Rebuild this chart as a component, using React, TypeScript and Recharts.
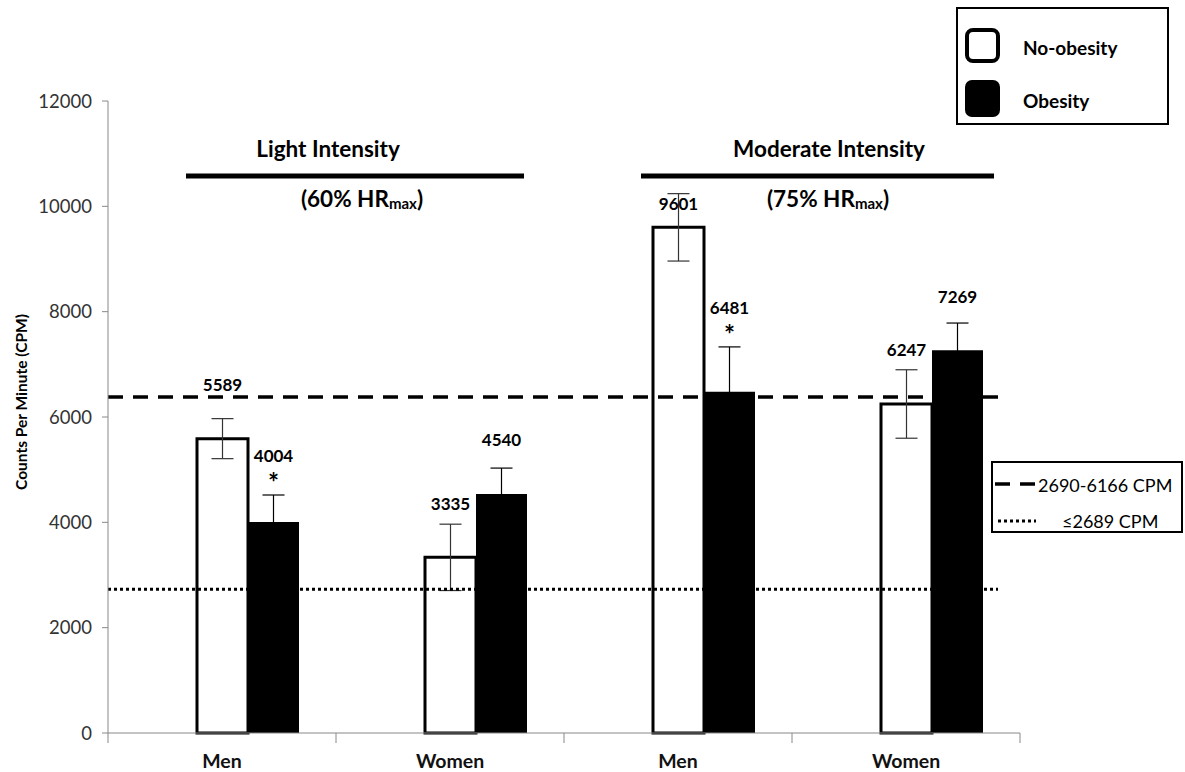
import { BarChart, Bar, XAxis, YAxis, ErrorBar, LabelList, ReferenceLine } from "recharts";

const categories = ["Men", "Women", "Men", "Women"];
const noObesity = [5589, 3335, 9601, 6247];
const obesity = [4004, 4540, 6481, 7269];
const noObesityErr = [380, 630, 640, 650];
const obesityErr = [515, 490, 850, 515];
const significant = [true, false, true, false];
const spacer = [0, 0, 0, 0];
const yTicks = [0, 2000, 4000, 6000, 8000, 10000, 12000];
const moderateCut = 6380;
const lightCut = 2730;

const data = categories.map((name, i) => ({
  name,
  spacer: spacer[i],
  noObesity: noObesity[i],
  obesity: obesity[i],
  noObesityErr: noObesityErr[i],
  obesityErr: obesityErr[i],
}));

const FONT = "Lato, 'Open Sans', sans-serif";
const HEADER_RULE_Y = 176;

function makeLabel(errors: number[], flags?: boolean[]) {
  return (props: any) => {
    const { x, y, width, height, value, index } = props;
    const v = Number(value);
    if (!v || !height) return null;
    const barTop = Number(y);
    const errTop = barTop - errors[index] * (Number(height) / v);
    const cx = Number(x) + Number(width) / 2;
    const star = flags && flags[index];
    // plain labels float above the bar, but stay under the header rule
    const ly = star ? errTop - 39 : Math.max(barTop - 54, HEADER_RULE_Y + 27);
    return (
      <g fontFamily={FONT} fontWeight={700} fill="#000">
        <text x={cx} y={ly} textAnchor="middle" dominantBaseline="central" fontSize={17}>
          {v}
        </text>
        {star && (
          <text x={cx} y={errTop - 13} textAnchor="middle" dominantBaseline="central" fontSize={26}>
            *
          </text>
        )}
      </g>
    );
  };
}

function CategoryTick(props: any) {
  const { x, y, payload, index } = props;
  const half = payload.offset || 114;
  return (
    <g>
      <line x1={x - half} x2={x - half} y1={y - 8} y2={y + 2} stroke="#888" />
      {index === categories.length - 1 && (
        <line x1={x + half} x2={x + half} y1={y - 8} y2={y + 2} stroke="#888" />
      )}
      <text x={x} y={y + 19} textAnchor="middle" dominantBaseline="central" fontFamily={FONT} fontWeight={700} fontSize={19.5} fill="#111">
        {payload.value}
      </text>
    </g>
  );
}

function ShortLine(dash: string, width: number) {
  return (p: any) => (
    <line x1={p.x1} y1={p.y1} x2={p.x2 - 22} y2={p.y2} stroke="#000" strokeWidth={width} strokeDasharray={dash} />
  );
}

export default function App() {
  return (
    <div style={{ position: "absolute", left: 0, top: 0, width: 1185, height: 772, background: "#fff" }}>
      <BarChart
        width={1185}
        height={772}
        data={data}
        margin={{ top: 101, right: 165, left: 0, bottom: 0 }}
        barGap={0}
        barSize={51}
      >
        <XAxis dataKey="name" height={39} stroke="#888" tickLine={false} tick={<CategoryTick />} interval={0} />
        <YAxis
          width={108}
          domain={[0, 12000]}
          ticks={yTicks}
          stroke="#888"
          tickSize={6}
          tickMargin={10}
          tick={{ fontFamily: FONT, fontSize: 18.5, fill: "#333" }}
        />
        <Bar dataKey="spacer" fill="transparent" isAnimationActive={false} />
        <Bar dataKey="noObesity" fill="#fff" stroke="#000" strokeWidth={3} isAnimationActive={false}>
          <ErrorBar dataKey="noObesityErr" direction="y" width={11} stroke="#333" strokeWidth={1.2} />
          <LabelList dataKey="noObesity" content={makeLabel(noObesityErr)} />
        </Bar>
        <Bar dataKey="obesity" fill="#000" isAnimationActive={false}>
          <ErrorBar dataKey="obesityErr" direction="y" width={11} stroke="#000" strokeWidth={1.2} />
          <LabelList dataKey="obesity" content={makeLabel(obesityErr, significant)} />
        </Bar>
        <ReferenceLine y={moderateCut} shape={ShortLine("15 10", 3.5)} />
        <ReferenceLine y={lightCut} shape={ShortLine("3 3", 3)} />
      </BarChart>

      <svg
        width={1185}
        height={772}
        style={{ position: "absolute", left: 0, top: 0, pointerEvents: "none" }}
        fontFamily={FONT}
      >
        {/* y axis title */}
        <text
          x={21}
          y={402}
          transform="rotate(-90 21 402)"
          textAnchor="middle"
          dominantBaseline="central"
          fontSize={15.5}
          fontWeight={700}
        >
          Counts Per Minute (CPM)
        </text>

        {/* intensity headers */}
        <text x={328} y={148} textAnchor="middle" dominantBaseline="central" fontSize={22.5} fontWeight={700}>
          Light Intensity
        </text>
        <line x1={186} x2={524} y1={HEADER_RULE_Y} y2={HEADER_RULE_Y} stroke="#000" strokeWidth={5} />
        <text x={362} y={198} textAnchor="middle" dominantBaseline="central" fontSize={22.5} fontWeight={700}>
          (60% HR<tspan fontSize={15} dy={5}>max</tspan>
          <tspan dy={-5}>)</tspan>
        </text>
        <text x={829} y={148} textAnchor="middle" dominantBaseline="central" fontSize={22.5} fontWeight={700}>
          Moderate Intensity
        </text>
        <line x1={641} x2={994} y1={HEADER_RULE_Y} y2={HEADER_RULE_Y} stroke="#000" strokeWidth={5} />
        <text x={828} y={198} textAnchor="middle" dominantBaseline="central" fontSize={22.5} fontWeight={700}>
          (75% HR<tspan fontSize={15} dy={5}>max</tspan>
          <tspan dy={-5}>)</tspan>
        </text>

        {/* series legend */}
        <rect x={957} y={8} width={211} height={116} fill="#fff" stroke="#000" strokeWidth={2} />
        <rect x={967} y={30} width={31} height={31} rx={6} fill="#fff" stroke="#000" strokeWidth={4} />
        <rect x={965} y={80} width={35} height={37} rx={7} fill="#000" />
        <text x={1023} y={47} dominantBaseline="central" fontSize={19} fontWeight={700}>
          No-obesity
        </text>
        <text x={1023} y={100} dominantBaseline="central" fontSize={19} fontWeight={700}>
          Obesity
        </text>

        {/* threshold legend */}
        <rect x={992} y={462} width={190} height={70} fill="#fff" stroke="#000" strokeWidth={2} />
        <line x1={995} x2={1037} y1={484} y2={484} stroke="#000" strokeWidth={3.5} strokeDasharray="15 10" />
        <text x={1038} y={485} dominantBaseline="central" fontSize={18}>
          2690-6166 CPM
        </text>
        <line x1={998} x2={1036} y1={521} y2={521} stroke="#000" strokeWidth={3} strokeDasharray="3 3" />
        <text x={1062} y={521} dominantBaseline="central" fontSize={18}>
          ≤2689 CPM
        </text>
      </svg>
    </div>
  );
}
